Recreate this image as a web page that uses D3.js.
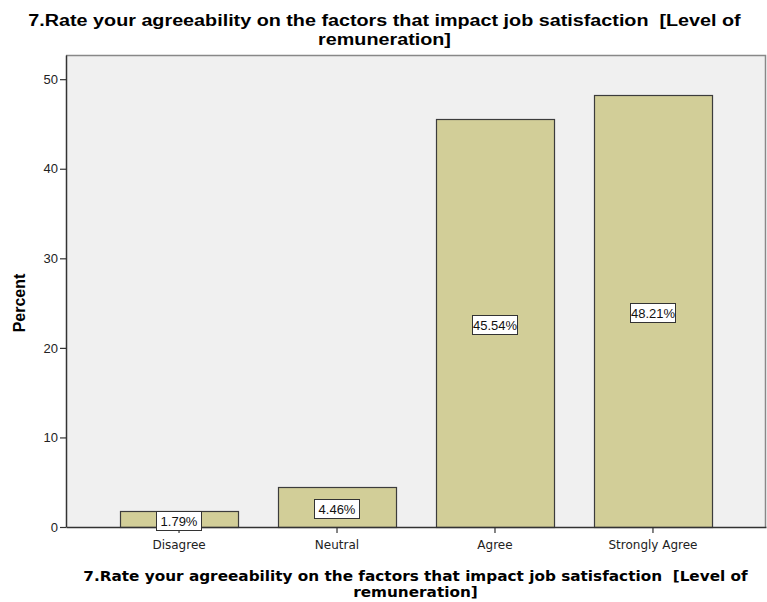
<!DOCTYPE html>
<html>
<head>
<meta charset="utf-8">
<script src="https://cdn.jsdelivr.net/npm/d3@7"></script>
<style>
  body { margin: 0; background: #fff; }
  svg { display: block; }
  text { white-space: pre; }
</style>
</head>
<body>
<div id="chart"></div>
<script>
// chart data
var categories = ["Disagree", "Neutral", "Agree", "Strongly Agree"];
var percents = [1.79, 4.46, 45.54, 48.21];
var yTicks = [0, 10, 20, 30, 40, 50];
var titleLines = ["7.Rate your agreeability on the factors that impact job satisfaction  [Level of", "remuneration]"];

var svgWidth = 767;
var svgHeight = 602;

var margin = { top: 55, right: 1, bottom: 75, left: 66 };
var width = svgWidth - margin.left - margin.right;
var height = svgHeight - margin.top - margin.bottom;

var svg = d3.select("#chart")
    .append("svg")
    .attr("width", svgWidth)
    .attr("height", svgHeight);

// two-line title squeezed horizontally to a given width
function wrappedTitle(cx, y, fontFamily, fontSize, lineGap, targetWidth) {
    var g = svg.append("g");
    var t = g.append("text")
        .attr("text-anchor", "middle")
        .style("font-family", fontFamily)
        .style("font-weight", "bold")
        .style("font-size", fontSize + "px");
    t.selectAll("tspan")
        .data(titleLines)
        .enter().append("tspan")
        .attr("x", 0)
        .attr("y", function (d, i) { return i * lineGap; })
        .text(function (d) { return d; });
    var w = t.select("tspan").node().getComputedTextLength();
    g.attr("transform", `translate(${cx}, ${y}) scale(${targetWidth / w}, 1)`);
}

wrappedTitle(384.5, 26, "Liberation Sans, Arial, sans-serif", 17, 19, 713);

var chart = svg.append("g")
    .attr("transform", `translate(${margin.left}, ${margin.top})`);

var x = d3.scaleBand()
    .domain(categories)
    .range([0, width])
    .paddingInner(0.253)
    .paddingOuter(0.342);

var y = d3.scaleLinear()
    .domain([0, 52.7])
    .range([height, 0]);

// plot background
chart.append("rect")
    .attr("width", width)
    .attr("height", height)
    .attr("fill", "#f0f0f0");

// top/right frame
chart.append("path")
    .attr("d", `M0,0.5H${width - 0.5}V${height}`)
    .attr("fill", "none")
    .attr("stroke", "#888")
    .attr("stroke-width", 1.5);

// bars
chart.selectAll(".bar")
    .data(percents)
    .enter().append("rect")
    .attr("class", "bar")
    .attr("x", function (d, i) { return Math.round(x(categories[i])) + 0.5; })
    .attr("y", function (d) { return Math.round(y(d)) + 0.5; })
    .attr("width", x.bandwidth())
    .attr("height", function (d) { return height - Math.round(y(d)); })
    .attr("fill", "#d2ce98")
    .attr("stroke", "#3c3c3c")
    .attr("stroke-width", 1.2);

// axes
var leftAxis = d3.axisLeft(y).tickValues(yTicks).tickSize(6).tickSizeOuter(0).tickPadding(2);
var bottomAxis = d3.axisBottom(x).tickSize(6).tickSizeOuter(0).tickPadding(7);

var gy = chart.append("g").call(leftAxis);
gy.select(".domain").attr("stroke", "#333").attr("stroke-width", 1.5);
gy.selectAll(".tick line").attr("stroke", "#333").attr("stroke-width", 1.2);
gy.selectAll(".tick text")
    .style("font-family", "Liberation Sans, Arial, sans-serif")
    .style("font-size", "13px")
    .attr("fill", "#222");

var gx = chart.append("g")
    .attr("transform", `translate(0, ${height})`)
    .call(bottomAxis);
gx.select(".domain").attr("stroke", "#333").attr("stroke-width", 1.5);
gx.selectAll(".tick line").attr("stroke", "#333").attr("stroke-width", 1.2);
gx.selectAll(".tick text")
    .style("font-family", "DejaVu Sans, Verdana, sans-serif")
    .style("font-size", "12px")
    .attr("fill", "#222");

// value labels
var labels = chart.selectAll(".lbl")
    .data(percents)
    .enter().append("g")
    .attr("class", "lbl")
    .attr("transform", function (d, i) {
        return `translate(${Math.round(x(categories[i]) + x.bandwidth() / 2)}, ${Math.round((y(d) + height) / 2) + 2})`;
    });

labels.append("rect")
    .attr("x", -22.5)
    .attr("y", -9.5)
    .attr("width", 45)
    .attr("height", 19)
    .attr("fill", "#fff")
    .attr("stroke", "#333")
    .attr("stroke-width", 1);

labels.append("text")
    .attr("text-anchor", "middle")
    .attr("dy", "0.36em")
    .style("font-family", "Liberation Sans, Arial, sans-serif")
    .style("font-size", "13px")
    .attr("fill", "#111")
    .text(function (d) { return d.toFixed(2) + "%"; });

// y-axis title
svg.append("text")
    .attr("transform", "translate(25, 303) rotate(-90)")
    .attr("text-anchor", "middle")
    .style("font-family", "Liberation Sans, Arial, sans-serif")
    .style("font-weight", "bold")
    .style("font-size", "16px")
    .text("Percent");

// x-axis title
wrappedTitle(415.5, 581, "DejaVu Sans, Verdana, sans-serif", 14, 16, 665);
</script>
</body>
</html>
